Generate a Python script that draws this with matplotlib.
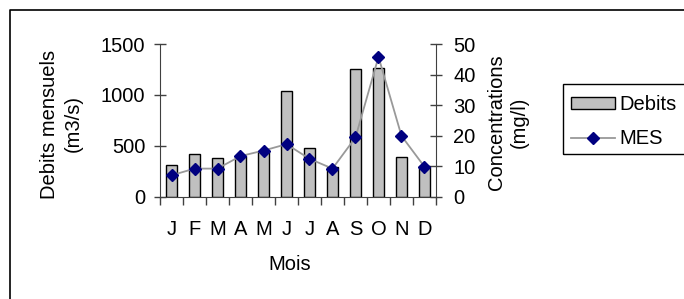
import matplotlib
matplotlib.use("Agg")
import matplotlib.pyplot as plt
import numpy as np
from matplotlib.lines import Line2D
from matplotlib.patches import Patch, Rectangle

months = ["J", "F", "M", "A", "M", "J", "J", "A", "S", "O", "N", "D"]
debits = [308, 422, 377, 400, 449, 1035, 475, 295, 1257, 1260, 393, 301]
mes = [7.0, 9.2, 9.2, 13.3, 15.1, 17.2, 12.4, 9.2, 19.4, 45.8, 19.9, 9.8]

plt.rcParams['font.family'] = ['Liberation Sans', 'DejaVu Sans']
W, H = 684, 299
fig = plt.figure(figsize=(W/100, H/100), dpi=100)
fs = 14.5

ax = fig.add_axes([160/W, 1-196.7/H, (436-160)/W, (196.7-44)/H])
x = np.arange(len(months))
ax.bar(x, debits, width=0.46, color="#C0C0C0", edgecolor="black", linewidth=1, zorder=2)
ax.set_xlim(-0.5, 11.5)
ax.set_ylim(0, 1500)
ax.set_yticks([0, 500, 1000, 1500])
ax.set_xticks(np.arange(-0.5, 12, 1))
ax.set_xticklabels([])
ax.set_xticks(x, minor=True)
ax.set_xticklabels(months, minor=True, fontsize=fs)
ax.tick_params(axis='x', which='major', direction='out', length=6, color='#404040', width=1)
ax.tick_params(axis='x', which='minor', length=0, pad=17)
ax.tick_params(axis='y', direction='inout', length=9, color='#404040', width=1, labelsize=fs, pad=6)
ax.spines['top'].set_visible(False)
ax.spines['right'].set_visible(False)
for s in ['left', 'bottom']:
    ax.spines[s].set_color('#404040')

ax2 = ax.twinx()
ax2.plot(x, mes, color="#999999", linewidth=1.3, marker="D", markersize=6,
         markerfacecolor="#000080", markeredgecolor="#000080", zorder=3)
ax2.set_ylim(0, 50)
ax2.set_yticks([0, 10, 20, 30, 40, 50])
ax2.tick_params(axis='y', direction='inout', length=9, color='#404040', width=1, labelsize=fs, pad=8)
for s in ['top', 'left', 'bottom']:
    ax2.spines[s].set_visible(False)
ax2.spines['right'].set_color('#404040')

fig.text(61/W, 1-124/H, "Debits mensuels\n(m3/s)", rotation=90, ha="center", va="center",
         multialignment="center", fontsize=fs, linespacing=1.3)
fig.text(508/W, 1-122/H, "Concentrations\n(mg/l)", rotation=90, ha="center", va="center",
         multialignment="center", fontsize=fs, linespacing=1.3)
fig.text(290/W, 1-264/H, "Mois", ha="center", va="center", fontsize=fs)

handles = [Patch(facecolor="#C0C0C0", edgecolor="black", linewidth=1),
           Line2D([0], [0], color="#999999", linewidth=1.3, marker="D", markersize=6,
                  markerfacecolor="#000080", markeredgecolor="#000080")]
leg = fig.legend(handles, ["Debits", "MES"], loc="upper left",
                 bbox_to_anchor=(563/W, 1-87/H), borderaxespad=0, fontsize=fs,
                 frameon=False, handlelength=2.2, handleheight=0.55,
                 handletextpad=0.2, borderpad=0.4, labelspacing=0.75)

fig.add_artist(Rectangle((563/W, 1-154/H), 140/W, 70/H, fill=False, edgecolor="black",
                         linewidth=1, transform=fig.transFigure))
fig.add_artist(Line2D([10/W, 10/W, 1.0], [0, 1-10/H, 1-10/H], color="black",
                      linewidth=1.2, transform=fig.transFigure))

fig.savefig("out.png", dpi=100)
